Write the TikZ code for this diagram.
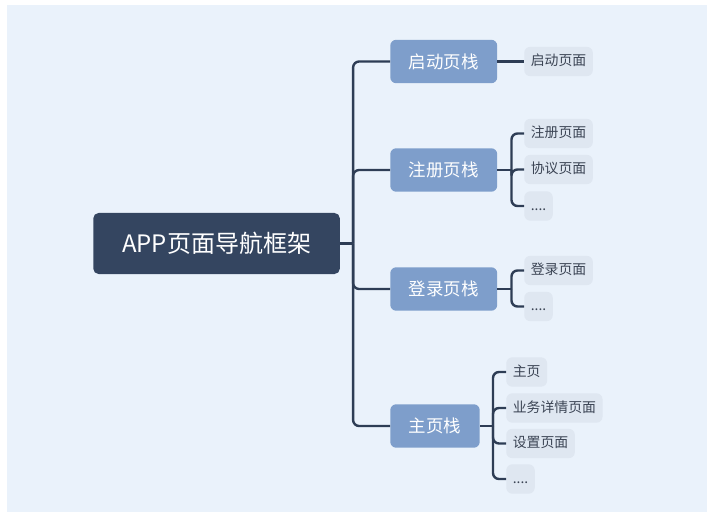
\documentclass[tikz,border=0pt]{standalone}
\usepackage{fontspec}
\setmainfont{Noto Sans CJK SC}
\usetikzlibrary{positioning}
\definecolor{bgblue}{HTML}{EAF2FB}
\definecolor{rootnavy}{HTML}{344560}
\definecolor{stackblue}{HTML}{7E9ECB}
\definecolor{pagegray}{HTML}{DFE7F1}
\definecolor{linknavy}{HTML}{2E3D55}
\definecolor{pagetext}{HTML}{3B4454}
\tikzset{
  rootbox/.style={fill=rootnavy,text=white,rounded corners=4pt,anchor=west,
    inner xsep=21.6pt,minimum height=45.75pt,font=\fontsize{18}{18}\selectfont},
  stackbox/.style={fill=stackblue,text=white,rounded corners=4.5pt,anchor=west,
    inner xsep=13.9pt,minimum height=32.6pt,font=\fontsize{13.1}{13.1}\selectfont},
  pagebox/.style={fill=pagegray,text=pagetext,rounded corners=4.5pt,anchor=west,
    inner xsep=4.9pt,minimum height=22pt,text height=0.8em,text depth=0.2em,
    font=\fontsize{10.4}{10.4}\selectfont},
  link/.style={draw=linknavy,line width=1.8pt,rounded corners=4.5pt}
}

\begin{document}
\begin{tikzpicture}[x=0.75pt,y=-0.75pt]
\useasboundingbox (0,0) rectangle (727,527);
\fill[bgblue] (7,5) rectangle (707,512);
% root and stacks
\node[rootbox] (app) at (93,243.5) {APP页面导航框架};
\node[stackbox] (qidong) at (390,61.5) {启动页栈};
\node[stackbox] (zhuce) at (390,170) {注册页栈};
\node[stackbox] (denglu) at (390,289) {登录页栈};
\node[stackbox] (zhuye) at (390,426) {主页栈};
% pages
\node[pagebox] (qidongA) at (524,61.5) {启动页面};
\node[pagebox] (zhuceA) at (524,133.5) {注册页面};
\node[pagebox] (zhuceB) at (524,169.5) {协议页面};
\node[pagebox] (zhuceC) at (524,206) {....};
\node[pagebox] (dengluA) at (524,270.5) {登录页面};
\node[pagebox] (dengluB) at (524,306.5) {....};
\node[pagebox] (zhuyeA) at (506,372) {主页};
\node[pagebox] (zhuyeB) at (506,408) {业务详情页面};
\node[pagebox] (zhuyeC) at (506,443.5) {设置页面};
\node[pagebox] (zhuyeD) at (506,479) {....};
% trunk
\draw[link] (app.east) -- ++(13,0) coordinate (trunk);
\draw[link] (trunk) |- (qidong.west);
\draw[link] (trunk) |- (zhuce.west);
\draw[link] (trunk) |- (denglu.west);
\draw[link] (trunk) |- (zhuye.west);
% branches
\draw[link] (qidong.east) -- (qidongA.west);
\draw[link] (zhuce.east) -- ++(14,0) coordinate (zhuceFork);
\draw[link] (zhuceFork) |- (zhuceA.west);
\draw[link] (zhuceFork) |- (zhuceB.west);
\draw[link] (zhuceFork) |- (zhuceC.west);
\draw[link] (denglu.east) -- ++(14,0) coordinate (dengluFork);
\draw[link] (dengluFork) |- (dengluA.west);
\draw[link] (dengluFork) |- (dengluB.west);
\draw[link] (zhuye.east) -- ++(13,0) coordinate (zhuyeFork);
\draw[link] (zhuyeFork) |- (zhuyeA.west);
\draw[link] (zhuyeFork) |- (zhuyeB.west);
\draw[link] (zhuyeFork) |- (zhuyeC.west);
\draw[link] (zhuyeFork) |- (zhuyeD.west);
\end{tikzpicture}
\end{document}
